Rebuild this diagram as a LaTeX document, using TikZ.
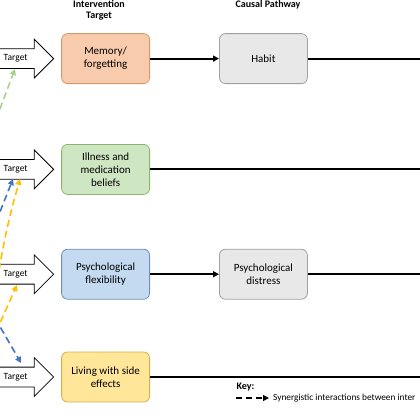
\documentclass[tikz,border=0pt]{standalone}
\usepackage{fontspec}
\setmainfont{Carlito}
\usetikzlibrary{arrows.meta,shapes.arrows,positioning}

\definecolor{memfill}{HTML}{F8CBAD}
\definecolor{memline}{HTML}{D39A6C}
\definecolor{illfill}{HTML}{CFE6C3}
\definecolor{illline}{HTML}{8DB571}
\definecolor{flexfill}{HTML}{C4DAF0}
\definecolor{flexline}{HTML}{6F8FBA}
\definecolor{sidefill}{HTML}{FFE699}
\definecolor{sideline}{HTML}{D2B04E}
\definecolor{pathfill}{HTML}{E8E8E8}
\definecolor{pathline}{HTML}{A0A0A0}
\definecolor{syngreen}{HTML}{A9D18E}
\definecolor{synblue}{HTML}{4472C4}
\definecolor{synyellow}{HTML}{FFC000}

\tikzset{
  box/.style={draw, rounded corners=6pt, minimum width=88pt, minimum height=50pt,
    inner sep=3pt, align=center, line width=0.8pt, font=\fontsize{11}{13}\selectfont},
  target/.style={single arrow, draw, fill=white, line width=0.8pt,
    single arrow head extend=9.5pt, minimum height=66pt, inner xsep=0pt,
    inner ysep=5.25pt, text height=6.5pt, text depth=2pt,
    font=\fontsize{9.5}{10}\selectfont},
  link/.style={line width=2pt},
  syn/.style={line width=1.6pt, dash pattern=on 7pt off 4pt,
    -{Triangle[length=6pt,width=6pt]}},
  head/.style={font=\bfseries\fontsize{10}{11.5}\selectfont, align=center},
}

\begin{document}
\begin{tikzpicture}[x=1pt,y=-1pt]
\useasboundingbox (0,0) rectangle (420,420);
\clip (0,0) rectangle (420,420);

% column headers
\node[head] (hint) at (99,10.5) {Intervention\\Target};
\node[head] (hpath) at (268,5) {Causal Pathway};

\matrix [column sep=69pt, row sep=52pt, inner sep=0pt, anchor=north west] at (61,33)
{
\node[box, fill=memfill, draw=memline] (mem) {Memory/\\forgetting}; &
\node[box, fill=pathfill, draw=pathline] (habit) {Habit}; \\[8pt]
\node[box, fill=illfill, draw=illline] (ill) {Illness and\\medication\\beliefs}; & \\[2pt]
\node[box, fill=flexfill, draw=flexline] (flex) {Psychological\\flexibility}; &
\node[box, fill=pathfill, draw=pathline] (distress) {Psychological\\distress}; \\
\node[box, fill=sidefill, draw=sideline] (side) {Living with side\\effects}; & \\
};

% target arrows
\node[target, left=7pt of mem.west, anchor=tip] (tmem) {Target};
\node[target, left=7pt of ill.west, anchor=tip] (till) {Target};
\node[target, left=7pt of flex.west, anchor=tip] (tflex) {Target};
\node[target, left=7pt of side.west, anchor=tip] (tside) {Target};

% pathways
\coordinate (edge) at (430,0);
\draw[link, -{Triangle[length=6pt,width=6pt]}] (mem) -- (habit);
\draw[link] (habit) -- (habit -| edge);
\draw[link] (ill) -- (ill -| edge);
\draw[link, -{Triangle[length=6pt,width=6pt]}] (flex) -- (distress);
\draw[link] (distress) -- (distress -| edge);
\draw[link] (side) -- (side -| edge);

% synergistic interactions
\coordinate (g0) at (-8,130);   \coordinate (g1) at (15,69);
\coordinate (b0) at (-8,232);   \coordinate (b1) at (13,179);
\coordinate (y0) at (-1,270);   \coordinate (y1) at (20,179);
\coordinate (y2) at (-4,332);   \coordinate (y3) at (17,285);
\coordinate (b2) at (-5,318);   \coordinate (b3) at (21,363);
\draw[syn, syngreen] (g0) -- (g1);
\draw[syn, synblue] (b0) -- (b1);
\draw[syn, synyellow] (y0) to[bend left=3] (y1);
\draw[syn, synyellow] (y2) -- (y3);
\draw[syn, synblue] (b2) -- (b3);

% key
\node[head, anchor=west] (key) at (233,387) {Key:};
\coordinate (k0) at (236,398); \coordinate (k1) at (269,398);
\draw[syn, black, line width=1.2pt, dash pattern=on 6pt off 4pt] (k0) -- (k1);
\node[right=4pt of k1, font=\fontsize{9.3}{11}\selectfont, inner sep=0pt] (keytxt)
  {Synergistic interactions between inter};
\end{tikzpicture}
\end{document}
